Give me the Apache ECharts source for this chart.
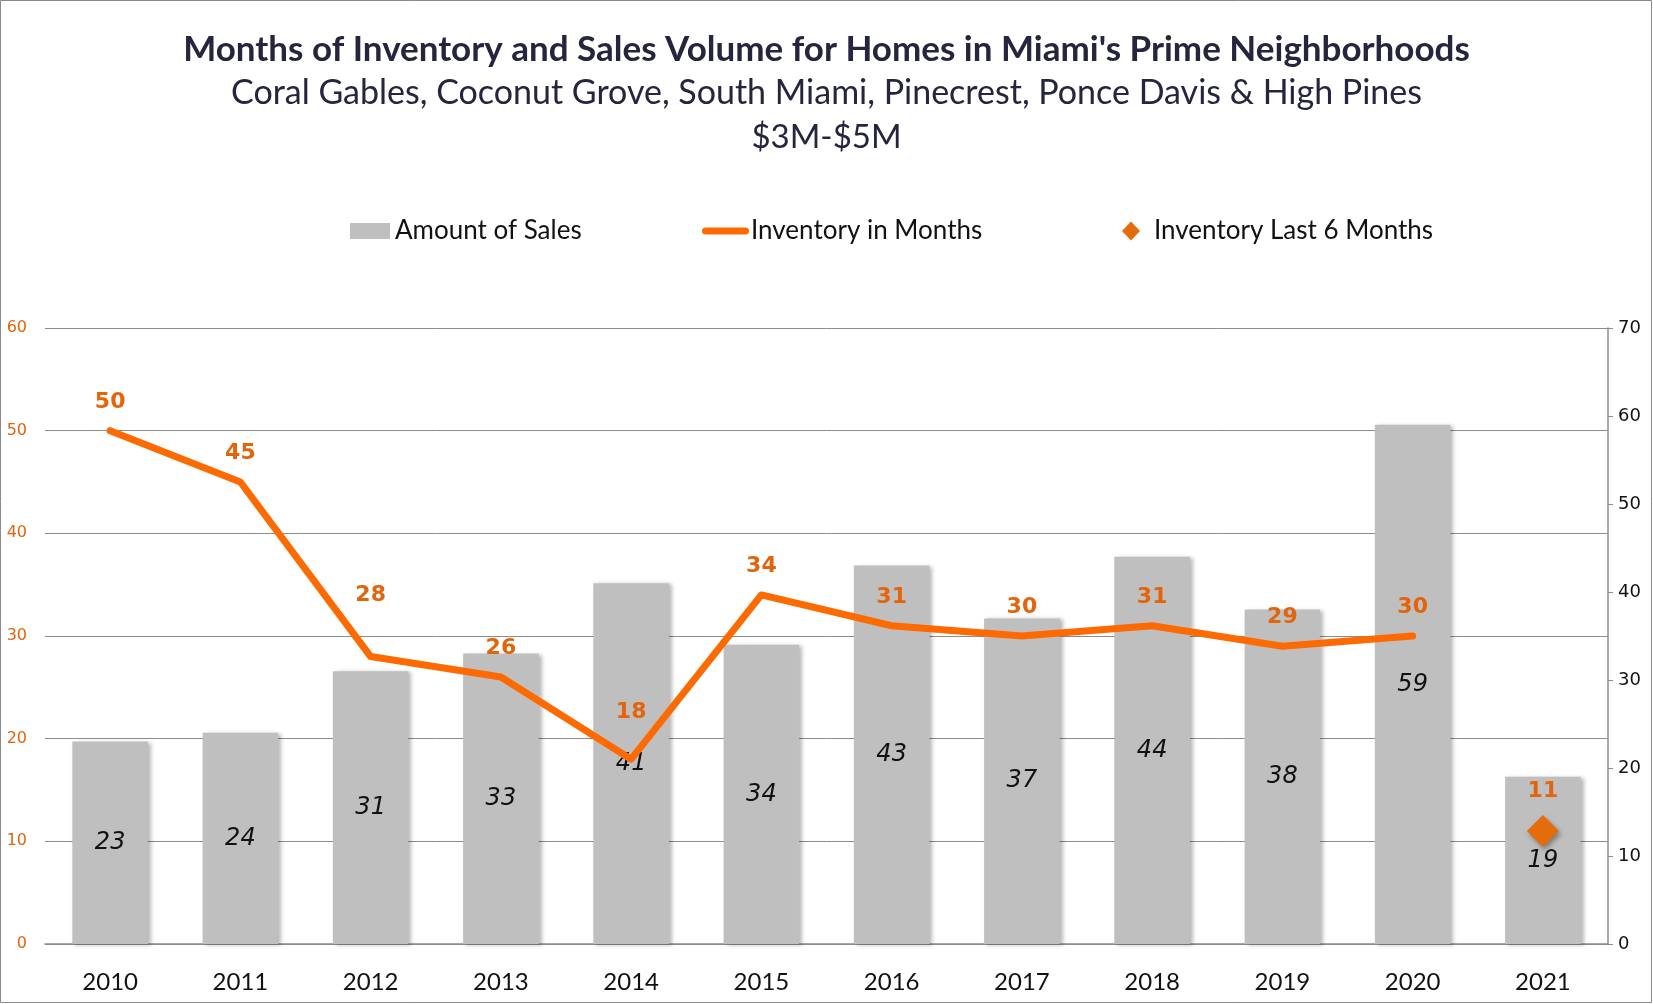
<!DOCTYPE html>
<html>
<head>
<meta charset="utf-8">
<title>Months of Inventory and Sales Volume</title>
<script src="https://cdn.jsdelivr.net/npm/echarts@6/dist/echarts.min.js"></script>
<style>
  html, body { margin: 0; padding: 0; background: #fff; }
  #chart { width: 1653px; height: 1004px; }
</style>
</head>
<body>
<div id="chart"></div>
<script>
// --- data ---
const years = ['2010', '2011', '2012', '2013', '2014', '2015', '2016', '2017', '2018', '2019', '2020', '2021'];
const salesAmount = [23, 24, 31, 33, 41, 34, 43, 37, 44, 38, 59, 19];          // right axis
const inventoryMonths = [50, 45, 28, 26, 18, 34, 31, 30, 31, 29, 30, '-'];     // left axis
const inventoryLast6 = ['-', '-', '-', '-', '-', '-', '-', '-', '-', '-', '-', 11];

const leftAxisRange = { min: 0, max: 60, interval: 10 };
const rightAxisRange = { min: 0, max: 70, interval: 10 };

// colours
const COLORS = {
  title: '#25253d',
  bar: '#bfbfbf',
  line: '#fd6a02',
  label: '#e3640b',
  diamond: '#e46c0a',
  grid: '#8c8c8c',
  text: '#111'
};

// labels that were nudged up in the original so they clear the bars
const lineLabelDistance = { '2012': 50, '2014': 35 };

const chart = echarts.init(document.getElementById('chart'));

const legendText = { fontFamily: 'Lato', fontSize: 26, color: COLORS.text };

const option = {
  animation: false,
  backgroundColor: '#fff',
  graphic: [{
    type: 'rect',
    shape: { x: 0.5, y: 0.5, width: 1651, height: 1002 },
    style: { fill: 'none', stroke: '#8a8a8a', lineWidth: 1 },
    silent: true
  }],
  title: [
    {
      text: "Months of Inventory and Sales Volume for Homes in Miami's Prime Neighborhoods",
      left: 'center', top: 27,
      textStyle: { fontFamily: 'Lato', fontWeight: 'bold', fontSize: 35, color: COLORS.title }
    },
    {
      text: 'Coral Gables, Coconut Grove, South Miami, Pinecrest, Ponce Davis & High Pines',
      left: 'center', top: 71,
      textStyle: { fontFamily: 'Lato', fontWeight: 'normal', fontSize: 34, color: COLORS.title }
    },
    {
      text: '$3M-$5M',
      left: 'center', top: 116,
      textStyle: { fontFamily: 'Lato', fontWeight: 'normal', fontSize: 33, color: COLORS.title }
    }
  ],
  legend: [
    {
      data: [{ name: 'Amount of Sales', icon: 'rect' }],
      left: 350, top: 218, padding: 0,
      itemWidth: 40, itemHeight: 16,
      textStyle: legendText
    },
    {
      data: [{ name: 'Inventory in Months', icon: 'path://M3.5,0 L43.5,0 A3.5,3.5 0 0 1 43.5,7 L3.5,7 A3.5,3.5 0 0 1 3.5,0 Z' }],
      left: 702, top: 218, padding: 0,
      itemWidth: 47, itemHeight: 7,
      itemStyle: { color: COLORS.line },
      textStyle: Object.assign({ padding: [0, 0, 0, -3] }, legendText)
    },
    {
      data: [{ name: 'Inventory Last 6 Months', icon: 'diamond' }],
      left: 1122, top: 218, padding: 0,
      itemWidth: 18, itemHeight: 19,
      textStyle: Object.assign({ padding: [0, 0, 0, 9] }, legendText)
    }
  ],
  grid: { left: 45, right: 45, top: 328, bottom: 60, containLabel: false },
  xAxis: {
    type: 'category',
    data: years,
    axisLine: { lineStyle: { color: COLORS.grid, width: 1.5 } },
    axisTick: { show: false },
    axisLabel: { fontFamily: 'Lato', fontSize: 24, color: COLORS.text, margin: 26 }
  },
  yAxis: [
    {
      type: 'value',
      position: 'left',
      min: leftAxisRange.min, max: leftAxisRange.max, interval: leftAxisRange.interval,
      axisLine: { show: false },
      axisTick: { show: false },
      splitLine: { show: true, lineStyle: { color: COLORS.grid, width: 1 } },
      axisLabel: { fontFamily: 'DejaVu Sans', fontSize: 16, color: COLORS.label, margin: 18 }
    },
    {
      type: 'value',
      position: 'right',
      min: rightAxisRange.min, max: rightAxisRange.max, interval: rightAxisRange.interval,
      axisLine: { show: true, lineStyle: { color: COLORS.grid, width: 1.5 } },
      axisTick: { show: true, inside: false, length: 5, lineStyle: { color: COLORS.grid } },
      splitLine: { show: false },
      axisLabel: { fontFamily: 'DejaVu Sans', fontSize: 18, color: COLORS.text, margin: 10 }
    }
  ],
  series: [
    {
      name: 'Amount of Sales',
      type: 'bar',
      yAxisIndex: 1,
      data: salesAmount,
      barWidth: '58%',
      itemStyle: {
        color: COLORS.bar,
        shadowColor: 'rgba(0,0,0,0.28)',
        shadowBlur: 4,
        shadowOffsetX: 3,
        shadowOffsetY: 1
      },
      label: {
        show: true,
        position: 'inside',
        fontFamily: 'DejaVu Sans',
        fontStyle: 'italic',
        fontSize: 24,
        color: COLORS.text
      },
      z: 1
    },
    {
      name: 'Inventory in Months',
      type: 'line',
      yAxisIndex: 0,
      data: inventoryMonths.map((v, i) => {
        const d = lineLabelDistance[years[i]];
        return d ? { value: v, label: { distance: d } } : v;
      }),
      symbol: 'circle',
      symbolSize: 1,
      showSymbol: true,
      itemStyle: { color: COLORS.line },
      lineStyle: { color: COLORS.line, width: 7, cap: 'round', join: 'round' },
      label: {
        show: true,
        position: 'top',
        distance: 17,
        fontFamily: 'DejaVu Sans',
        fontWeight: 'bold',
        fontSize: 22,
        color: COLORS.label
      },
      z: 3
    },
    {
      name: 'Inventory Last 6 Months',
      type: 'line',
      yAxisIndex: 0,
      data: inventoryLast6,
      symbol: 'diamond',
      symbolSize: [32, 32],
      lineStyle: { width: 0 },
      itemStyle: {
        color: COLORS.diamond,
        shadowColor: 'rgba(0,0,0,0.35)',
        shadowBlur: 5,
        shadowOffsetX: 2,
        shadowOffsetY: 3
      },
      label: {
        show: true,
        position: 'top',
        distance: 13,
        fontFamily: 'DejaVu Sans',
        fontWeight: 'bold',
        fontSize: 22,
        color: COLORS.label
      },
      z: 4
    }
  ]
};

chart.setOption(option);
</script>
</body>
</html>
